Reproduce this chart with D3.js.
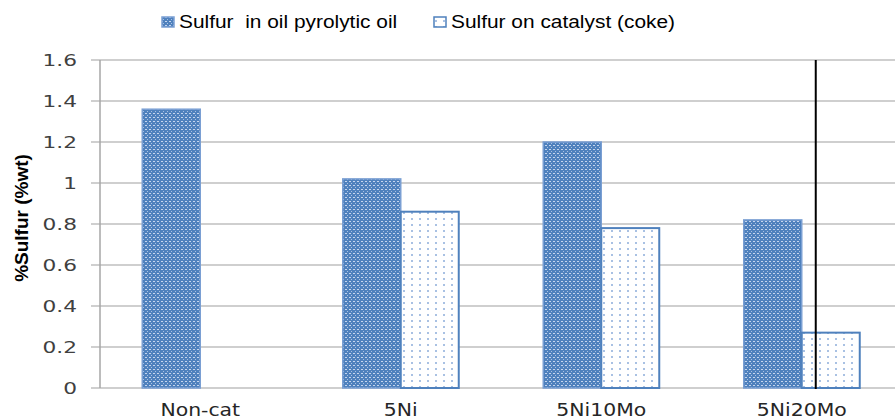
<!DOCTYPE html>
<html><head><meta charset="utf-8">
<script src="https://cdn.jsdelivr.net/npm/d3@7"></script>
<style>body{margin:0;background:#fff}svg{display:block}</style>
</head><body>
<svg id="c" width="895" height="419"></svg>
<script>
const categories = ["Non-cat", "5Ni", "5Ni10Mo", "5Ni20Mo"];
const seriesNames = ["Sulfur  in oil pyrolytic oil", "Sulfur on catalyst (coke)"];
const sulfurOil = [1.36, 1.02, 1.20, 0.82];
const sulfurCatalyst = [null, 0.86, 0.78, 0.27];
const yTicks = [0, 0.2, 0.4, 0.6, 0.8, 1, 1.2, 1.4, 1.6];
const yTickLabels = ["0", "0.2", "0.4", "0.6", "0.8", "1", "1.2", "1.4", "1.6"];
const markerValue = "5Ni20Mo";

(function () {
const svg = d3.select("#c");
const defs = svg.append("defs");
const p1 = defs.append("pattern").attr("id","pBlue").attr("patternUnits","userSpaceOnUse").attr("width",4).attr("height",4);
p1.append("rect").attr("width",4).attr("height",4).attr("fill","#4f81bd");
p1.append("rect").attr("x",1).attr("y",1).attr("width",2).attr("height",1).attr("fill","#c6d6ee");
p1.append("rect").attr("x",3).attr("y",3).attr("width",1).attr("height",1).attr("fill","#a9c1e3");
const p2 = defs.append("pattern").attr("id","pWhite").attr("patternUnits","userSpaceOnUse").attr("width",8).attr("height",6);
p2.append("rect").attr("width",8).attr("height",6).attr("fill","#ffffff");
p2.append("rect").attr("x",3).attr("y",2).attr("width",2).attr("height",2).attr("fill","#a9c1e3");

const mLeft = 100, mTop = 60, mBottom = 388, mRight = 902;
const x = d3.scaleBand().domain(categories).range([mLeft, mRight]).paddingInner(0).paddingOuter(0);
const y = d3.scaleLinear().domain([0, 1.6]).range([mBottom, mTop]);
const barW = 58;

svg.append("g").selectAll("line").data(yTicks).join("line")
  .attr("x1", mLeft - 9).attr("x2", mRight).attr("y1", d => y(d)).attr("y2", d => y(d))
  .attr("stroke", "#bfbfbf").attr("stroke-width", 1.5);
svg.append("line").attr("x1", mLeft).attr("x2", mLeft).attr("y1", mTop).attr("y2", mBottom)
  .attr("stroke", "#a6a6a6").attr("stroke-width", 1.5);

svg.append("g").selectAll("text").data(yTicks).join("text")
  .attr("transform", d => `translate(77,${y(d) + 5.5}) scale(1.4,1)`).attr("text-anchor", "end")
  .attr("font-family", "DejaVu Sans, Verdana, sans-serif").attr("font-size", 15.5).attr("fill", "#404040")
  .text((d, i) => yTickLabels[i]);

const g = svg.append("g");
categories.forEach((c, i) => {
  const cx = x(c) + x.bandwidth() / 2;
  if (sulfurOil[i] != null) {
    g.append("rect").attr("x", cx - barW).attr("y", y(sulfurOil[i])).attr("width", barW)
      .attr("height", y(0) - y(sulfurOil[i])).attr("fill", "url(#pBlue)")
      .attr("stroke", "#7a9fd3").attr("stroke-width", 1.5);
  }
  if (sulfurCatalyst[i] != null) {
    g.append("rect").attr("x", cx).attr("y", y(sulfurCatalyst[i])).attr("width", barW)
      .attr("height", y(0) - y(sulfurCatalyst[i])).attr("fill", "url(#pWhite)")
      .attr("stroke", "#4f81bd").attr("stroke-width", 2);
  }
});

svg.append("g").selectAll("text").data(categories).join("text")
  .attr("transform", d => `translate(${x(d) + x.bandwidth() / 2},${416}) scale(1.2,1)`).attr("text-anchor", "middle")
  .attr("font-family", "DejaVu Sans, Verdana, sans-serif").attr("font-size", 17).attr("fill", "#262626")
  .text(d => d);

const mx = x(markerValue) + x.bandwidth() / 2 + 14;
svg.append("line").attr("x1", mx).attr("x2", mx).attr("y1", mTop).attr("y2", mBottom + 1)
  .attr("stroke", "#000").attr("stroke-width", 2);

svg.append("text").attr("transform", `translate(28,218) rotate(-90)`)
  .attr("text-anchor", "middle").attr("font-family", "Liberation Sans, Arial, sans-serif")
  .attr("font-weight", "bold").attr("font-size", 19).attr("fill", "#000")
  .text("%Sulfur (%wt)");

const leg = svg.append("g");
const legX = [162, 434];
const legFill = ["url(#pBlue)", "url(#pWhite)"];
const legStroke = ["#7a9fd3", "#4f81bd"];
seriesNames.forEach((s, i) => {
  leg.append("rect").attr("x", legX[i]).attr("y", 17).attr("width", 12).attr("height", 10)
    .attr("fill", legFill[i]).attr("stroke", legStroke[i]).attr("stroke-width", 1.5);
  leg.append("text").attr("transform", `translate(${legX[i] + 17},27.5) scale(1.13,1)`)
    .attr("font-family", "Liberation Sans, Arial, sans-serif").attr("font-size", 18.5).attr("fill", "#000")
    .style("white-space", "pre")
    .text(s);
});
})();
</script>
</body></html>
